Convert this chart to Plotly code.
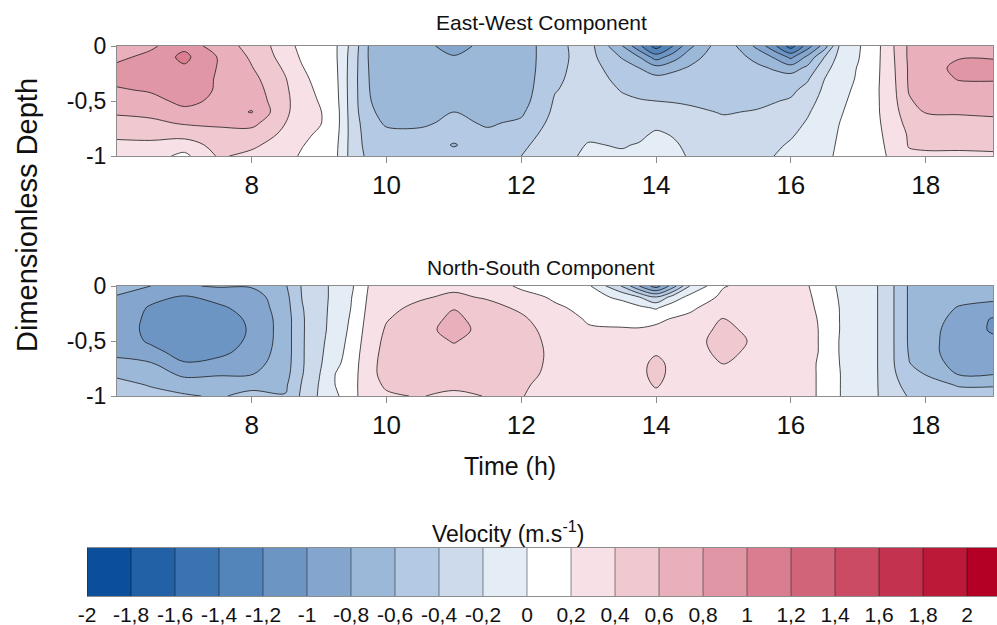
import numpy as np
import plotly.graph_objects as go

# ---------------- data ----------------
time_h = [6, 6.5, 7, 7.5, 8, 8.5, 8.75, 9, 9.25, 9.5, 9.75, 10, 10.5, 11, 11.5, 12, 12.5,
          13, 13.5, 13.75, 14, 14.25, 14.5, 15, 15.5, 15.75, 16, 16.25, 16.5, 16.75,
          17, 17.25, 17.5, 17.75, 18, 18.5, 19]
depth = [0, -0.1, -0.2, -0.3, -0.4, -0.5, -0.6, -0.7, -0.8, -0.9, -1.0]

# East-West velocity profiles, one list per time (surface -> bottom)
ew_profiles = [
    [0.70, 0.75, 0.85, 0.85, 0.78, 0.72, 0.62, 0.55, 0.45, 0.35, 0.30],
    [0.76, 0.86, 0.92, 0.90, 0.82, 0.74, 0.65, 0.56, 0.47, 0.35, 0.28],
    [0.95, 1.05, 0.97, 0.93, 0.90, 0.85, 0.75, 0.62, 0.48, 0.30, 0.15],
    [0.68, 0.79, 0.79, 0.78, 0.78, 0.76, 0.72, 0.64, 0.53, 0.47, 0.42],
    [0.55, 0.57, 0.61, 0.66, 0.70, 0.74, 0.81, 0.66, 0.52, 0.43, 0.36],
    [0.28, 0.32, 0.37, 0.41, 0.43, 0.44, 0.43, 0.40, 0.36, 0.32, 0.28],
    [0.14, 0.17, 0.21, 0.25, 0.28, 0.30, 0.31, 0.29, 0.25, 0.21, 0.17],
    [0.05, 0.07, 0.10, 0.13, 0.16, 0.19, 0.22, 0.22, 0.17, 0.12, 0.08],
    [0.02, 0.02, 0.03, 0.04, 0.05, 0.06, 0.08, 0.08, 0.06, 0.04, 0.03],
    [-0.28, -0.30, -0.31, -0.32, -0.32, -0.32, -0.32, -0.31, -0.30, -0.30, -0.30],
    [-0.63, -0.63, -0.62, -0.61, -0.60, -0.59, -0.56, -0.52, -0.50, -0.48, -0.45],
    [-0.70, -0.72, -0.72, -0.72, -0.72, -0.70, -0.68, -0.63, -0.55, -0.50, -0.47],
    [-0.75, -0.76, -0.76, -0.76, -0.75, -0.73, -0.69, -0.63, -0.56, -0.52, -0.50],
    [-0.86, -0.79, -0.77, -0.76, -0.73, -0.68, -0.60, -0.56, -0.55, -0.61, -0.55],
    [-0.75, -0.76, -0.76, -0.75, -0.74, -0.72, -0.67, -0.62, -0.57, -0.52, -0.50],
    [-0.72, -0.72, -0.72, -0.71, -0.70, -0.68, -0.63, -0.57, -0.50, -0.44, -0.40],
    [-0.45, -0.45, -0.44, -0.43, -0.41, -0.38, -0.36, -0.33, -0.30, -0.28, -0.26],
    [-0.32, -0.33, -0.33, -0.32, -0.31, -0.30, -0.28, -0.26, -0.23, -0.19, -0.17],
    [-0.80, -0.62, -0.50, -0.45, -0.41, -0.37, -0.33, -0.29, -0.25, -0.21, -0.18],
    [-1.15, -0.80, -0.60, -0.50, -0.44, -0.39, -0.34, -0.28, -0.23, -0.19, -0.17],
    [-1.50, -1.10, -0.72, -0.54, -0.47, -0.40, -0.32, -0.24, -0.18, -0.15, -0.14],
    [-1.20, -0.90, -0.65, -0.52, -0.47, -0.41, -0.34, -0.27, -0.21, -0.18, -0.17],
    [-0.85, -0.68, -0.58, -0.52, -0.48, -0.42, -0.37, -0.32, -0.27, -0.23, -0.21],
    [-0.45, -0.46, -0.47, -0.47, -0.46, -0.44, -0.41, -0.37, -0.33, -0.30, -0.28],
    [-0.85, -0.66, -0.56, -0.50, -0.47, -0.43, -0.39, -0.35, -0.30, -0.26, -0.23],
    [-1.15, -0.82, -0.62, -0.52, -0.47, -0.41, -0.36, -0.31, -0.27, -0.23, -0.20],
    [-1.50, -1.05, -0.70, -0.50, -0.44, -0.38, -0.32, -0.27, -0.22, -0.18, -0.16],
    [-1.10, -0.75, -0.55, -0.42, -0.34, -0.27, -0.22, -0.18, -0.15, -0.13, -0.12],
    [-0.70, -0.40, -0.27, -0.20, -0.16, -0.13, -0.10, -0.08, -0.06, -0.05, -0.04],
    [-0.12, -0.10, -0.08, -0.07, -0.05, -0.03, -0.01, 0.01, 0.02, 0.03, 0.04],
    [-0.02, -0.01, 0.01, 0.02, 0.04, 0.06, 0.08, 0.09, 0.10, 0.10, 0.10],
    [0.12, 0.13, 0.14, 0.15, 0.16, 0.16, 0.16, 0.15, 0.14, 0.13, 0.12],
    [0.37, 0.36, 0.35, 0.34, 0.33, 0.32, 0.31, 0.30, 0.28, 0.26, 0.24],
    [0.63, 0.63, 0.62, 0.62, 0.61, 0.58, 0.52, 0.46, 0.42, 0.41, 0.37],
    [0.70, 0.72, 0.73, 0.72, 0.70, 0.66, 0.61, 0.53, 0.46, 0.42, 0.38],
    [0.75, 0.79, 0.84, 0.81, 0.74, 0.68, 0.62, 0.54, 0.47, 0.42, 0.38],
    [0.72, 0.78, 0.88, 0.81, 0.76, 0.70, 0.63, 0.56, 0.48, 0.43, 0.38],
]

# North-South velocity profiles, one list per time (surface -> bottom)
ns_profiles = [
    [-0.70, -0.82, -0.88, -0.90, -0.90, -0.88, -0.84, -0.76, -0.63, -0.55, -0.50],
    [-0.80, -0.95, -1.02, -1.04, -1.05, -1.03, -0.94, -0.79, -0.68, -0.61, -0.55],
    [-0.82, -1.02, -1.10, -1.15, -1.19, -1.15, -1.08, -0.99, -0.85, -0.68, -0.58],
    [-0.78, -0.95, -1.03, -1.08, -1.10, -1.08, -1.05, -0.95, -0.82, -0.70, -0.62],
    [-0.78, -0.90, -0.94, -0.97, -0.98, -0.97, -0.93, -0.88, -0.81, -0.65, -0.55],
    [-0.62, -0.66, -0.68, -0.70, -0.70, -0.70, -0.70, -0.69, -0.67, -0.63, -0.59],
    [-0.38, -0.39, -0.41, -0.42, -0.42, -0.42, -0.42, -0.42, -0.41, -0.38, -0.36],
    [-0.26, -0.26, -0.26, -0.26, -0.26, -0.25, -0.24, -0.23, -0.21, -0.19, -0.18],
    [-0.15, -0.15, -0.14, -0.13, -0.12, -0.10, -0.08, -0.05, 0.01, 0.01, -0.03],
    [-0.01, 0.01, 0.02, 0.04, 0.06, 0.08, 0.10, 0.12, 0.13, 0.14, 0.14],
    [0.22, 0.24, 0.26, 0.28, 0.30, 0.32, 0.34, 0.35, 0.36, 0.35, 0.34],
    [0.30, 0.33, 0.36, 0.39, 0.42, 0.44, 0.45, 0.46, 0.45, 0.42, 0.38],
    [0.35, 0.38, 0.44, 0.49, 0.52, 0.53, 0.54, 0.53, 0.50, 0.44, 0.41],
    [0.36, 0.43, 0.59, 0.65, 0.68, 0.61, 0.56, 0.53, 0.50, 0.45, 0.35],
    [0.35, 0.38, 0.46, 0.50, 0.52, 0.53, 0.53, 0.52, 0.50, 0.45, 0.41],
    [0.15, 0.30, 0.37, 0.43, 0.47, 0.49, 0.50, 0.49, 0.47, 0.43, 0.41],
    [0.10, 0.16, 0.24, 0.29, 0.32, 0.34, 0.35, 0.35, 0.34, 0.32, 0.30],
    [0.03, 0.08, 0.13, 0.18, 0.22, 0.25, 0.27, 0.28, 0.28, 0.27, 0.26],
    [-0.42, -0.05, 0.10, 0.17, 0.21, 0.24, 0.26, 0.27, 0.27, 0.26, 0.25],
    [-0.80, -0.20, 0.05, 0.16, 0.21, 0.24, 0.28, 0.33, 0.34, 0.30, 0.26],
    [-1.10, -0.40, -0.02, 0.17, 0.23, 0.26, 0.37, 0.46, 0.47, 0.43, 0.32],
    [-0.70, -0.12, 0.12, 0.21, 0.24, 0.26, 0.29, 0.34, 0.34, 0.30, 0.27],
    [-0.20, 0.06, 0.17, 0.24, 0.30, 0.33, 0.32, 0.30, 0.28, 0.27, 0.26],
    [0.19, 0.24, 0.30, 0.41, 0.45, 0.47, 0.45, 0.41, 0.32, 0.28, 0.26],
    [0.26, 0.27, 0.28, 0.31, 0.34, 0.37, 0.35, 0.32, 0.29, 0.27, 0.26],
    [0.25, 0.26, 0.27, 0.28, 0.30, 0.31, 0.30, 0.29, 0.28, 0.27, 0.26],
    [0.24, 0.25, 0.26, 0.27, 0.28, 0.28, 0.28, 0.27, 0.27, 0.26, 0.25],
    [0.21, 0.23, 0.24, 0.25, 0.25, 0.25, 0.25, 0.24, 0.24, 0.24, 0.24],
    [0.08, 0.11, 0.14, 0.16, 0.17, 0.17, 0.17, 0.16, 0.16, 0.16, 0.16],
    [-0.04, -0.03, -0.02, -0.02, -0.02, -0.03, -0.03, -0.02, -0.01, -0.01, -0.01],
    [-0.10, -0.10, -0.11, -0.11, -0.11, -0.12, -0.12, -0.11, -0.10, -0.10, -0.10],
    [-0.17, -0.17, -0.17, -0.17, -0.17, -0.17, -0.17, -0.17, -0.17, -0.17, -0.17],
    [-0.37, -0.37, -0.37, -0.37, -0.37, -0.37, -0.37, -0.37, -0.36, -0.35, -0.33],
    [-0.62, -0.62, -0.62, -0.62, -0.62, -0.62, -0.61, -0.59, -0.52, -0.45, -0.41],
    [-0.70, -0.72, -0.73, -0.74, -0.75, -0.75, -0.75, -0.72, -0.61, -0.50, -0.43],
    [-0.72, -0.76, -0.81, -0.84, -0.86, -0.87, -0.87, -0.86, -0.82, -0.62, -0.50],
    [-0.74, -0.76, -0.86, -1.02, -1.03, -0.95, -0.90, -0.86, -0.81, -0.62, -0.50],
]

levels = [-2.0, -1.8, -1.6, -1.4, -1.2, -1.0, -0.8, -0.6, -0.4, -0.2, 0.0,
          0.2, 0.4, 0.6, 0.8, 1.0, 1.2, 1.4, 1.6, 1.8, 2.0]
level_labels = ["-2", "-1,8", "-1,6", "-1,4", "-1,2", "-1", "-0,8", "-0,6", "-0,4", "-0,2", "0",
                "0,2", "0,4", "0,6", "0,8", "1", "1,2", "1,4", "1,6", "1,8", "2"]
x_tick_vals = [8, 10, 12, 14, 16, 18]
x_tick_labels = ["8", "10", "12", "14", "16", "18"]
y_tick_vals = [0, -0.5, -1]
y_tick_labels = ["0", "-0,5", "-1"]

# ---------------- style ----------------
band_colors = ["#0b4f9c", "#2361a6", "#3b72b0", "#5384ba", "#6c95c4", "#84a6ce", "#9cb8d9",
               "#b4c9e3", "#ccdaeb", "#e4ecf5", "#ffffff", "#f8e1e6", "#f0c8d0", "#e9afbb",
               "#e196a5", "#da7d90", "#d2647a", "#cb4b64", "#c3324f", "#bc1939", "#b40024"]
n_pos = len(band_colors)  # 21 -> positions k/21, k = 0..21
colorscale = []
for k in range(n_pos + 1):
    c = band_colors[max(k - 1, 0)]
    lo = max(0.0, (k - 0.5) / n_pos)
    hi = min(1.0, (k + 0.5) / n_pos)
    colorscale.append([lo, c])
    colorscale.append([hi, c])

W, H = 997, 625
FONT = "Liberation Sans, Arial, sans-serif"
FRAME = "#8c8c8c"
LINE = "rgba(25,25,25,0.78)"


def px_x(p):
    return p / W


def px_y(p):
    return 1 - p / H


fig = go.Figure()

step = levels[1] - levels[0]
for prof, xa, ya in [(ew_profiles, "x", "y"), (ns_profiles, "x2", "y2")]:
    z = np.array(prof).T
    fig.add_trace(go.Contour(
        x=time_h, y=depth, z=z, xaxis=xa, yaxis=ya,
        colorscale=colorscale, showscale=False,
        contours=dict(start=levels[0], end=levels[-1], size=step, coloring="fill"),
        line=dict(color=LINE, width=1, smoothing=1.0),
        hoverinfo="skip",
    ))

# discrete colour bar drawn as a heatmap
centers = [l + step / 2 for l in levels]
fig.add_trace(go.Heatmap(
    x=centers, y=[0.5], z=[list(range(1, len(levels) + 1))],
    colorscale=colorscale, zmin=0, zmax=n_pos, showscale=False,
    xaxis="x3", yaxis="y3", hoverinfo="skip",
))
bx, by = [], []
for l in levels:
    bx += [l, l, None]
    by += [0, 1, None]
fig.add_trace(go.Scatter(x=bx, y=by, mode="lines", xaxis="x3", yaxis="y3",
                         line=dict(color="rgba(0,0,0,0.45)", width=1),
                         hoverinfo="skip", showlegend=False))

xdom = [px_x(117), px_x(993)]
common_x = dict(range=[6, 19], tickvals=x_tick_vals, ticktext=x_tick_labels,
                showline=True, mirror=True, linecolor=FRAME, linewidth=1,
                ticks="outside", ticklen=6, tickcolor=FRAME, showgrid=False, zeroline=False,
                tickfont=dict(family=FONT, size=26, color="#111"), domain=xdom,
                automargin=False)
common_y = dict(range=[-1, 0], tickvals=y_tick_vals, ticktext=y_tick_labels,
                showline=True, mirror=True, linecolor=FRAME, linewidth=1,
                ticks="outside", ticklen=5, tickcolor=FRAME, showgrid=False, zeroline=False,
                tickfont=dict(family=FONT, size=23, color="#111"), automargin=False)

# colour bar axis range: 21 boxes of 44 px starting at 87 px, cut by the page edge
cb_left = 87
box_px = 44
cb_px_per_unit = box_px / step
cb_right_val = levels[0] + (W - cb_left) / cb_px_per_unit

fig.update_layout(
    width=W, height=H, margin=dict(l=0, r=0, t=0, b=0, autoexpand=False),
    paper_bgcolor="white", plot_bgcolor="white", showlegend=False,
    font=dict(family=FONT, color="#111"),
    xaxis=dict(common_x, anchor="y"),
    yaxis=dict(common_y, anchor="x", domain=[px_y(156), px_y(46)]),
    xaxis2=dict(common_x, anchor="y2"),
    yaxis2=dict(common_y, anchor="x2", domain=[px_y(396), px_y(286)]),
    xaxis3=dict(domain=[px_x(cb_left), 1.0], anchor="y3", range=[levels[0], cb_right_val],
                tickvals=levels, ticktext=level_labels, ticks="", ticklen=0,
                showgrid=False, zeroline=False,
                showline=True, mirror=True, linecolor=FRAME, linewidth=1, automargin=False,
                tickfont=dict(family=FONT, size=21, color="#111")),
    yaxis3=dict(domain=[px_y(596), px_y(548)], anchor="x3", range=[0, 1],
                showticklabels=False, ticks="", showgrid=False, zeroline=False,
                showline=False, automargin=False),
    annotations=[
        dict(text="East-West Component", x=px_x(541), y=px_y(23), xref="paper", yref="paper",
             showarrow=False, xanchor="center", yanchor="middle",
             font=dict(family=FONT, size=21, color="#111")),
        dict(text="North-South Component", x=px_x(541), y=px_y(267), xref="paper", yref="paper",
             showarrow=False, xanchor="center", yanchor="middle",
             font=dict(family=FONT, size=21, color="#111")),
        dict(text="Dimensionless Depth", x=px_x(27), y=px_y(215), xref="paper", yref="paper",
             showarrow=False, xanchor="center", yanchor="middle", textangle=-90,
             font=dict(family=FONT, size=29, color="#111")),
        dict(text="Time (h)", x=px_x(510), y=px_y(466), xref="paper", yref="paper",
             showarrow=False, xanchor="center", yanchor="middle",
             font=dict(family=FONT, size=25, color="#111")),
        dict(text="Velocity (m.s<sup>-1</sup>)", x=px_x(508), y=px_y(532), xref="paper",
             yref="paper", showarrow=False, xanchor="center", yanchor="middle",
             font=dict(family=FONT, size=23, color="#111")),
    ],
)

fig.write_html("out.html")
